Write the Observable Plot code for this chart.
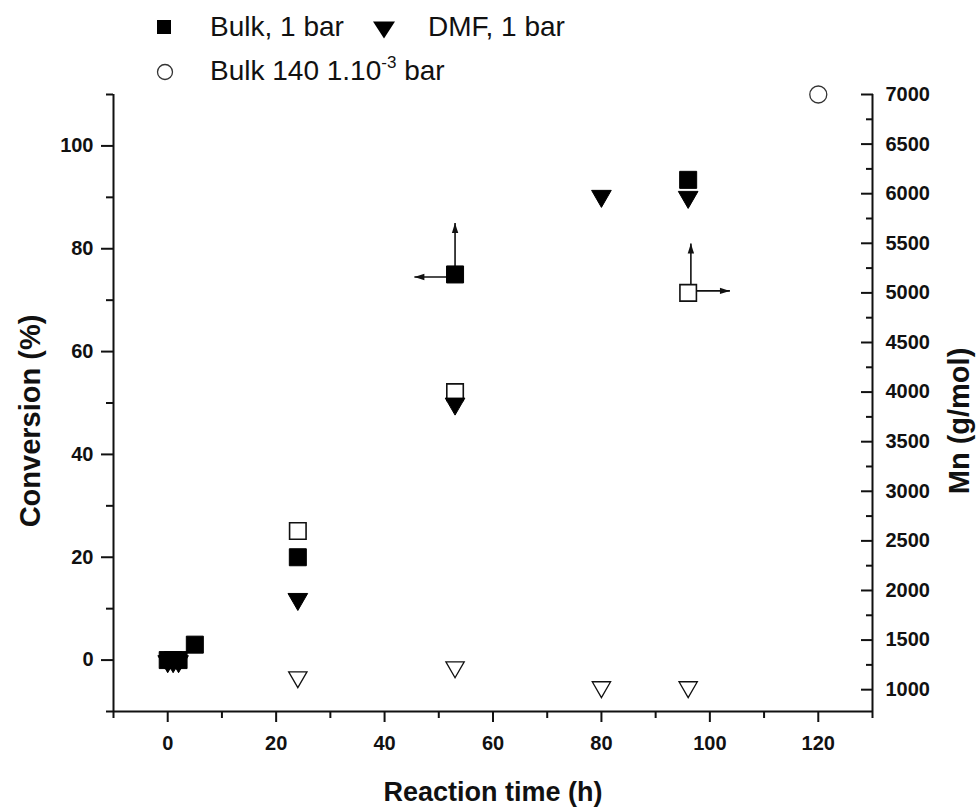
<!DOCTYPE html>
<html>
<head>
<meta charset="utf-8">
<script src="https://cdn.jsdelivr.net/npm/d3@7"></script>
<script src="https://cdn.jsdelivr.net/npm/@observablehq/plot@0.6"></script>
<style>
  body { margin: 0; background: #fff; font-family: "Liberation Sans", Arial, sans-serif; }
  #legend { position: relative; width: 976px; height: 80px; font-size: 28px; color: #111; }
  #legend .item { position: absolute; white-space: nowrap; line-height: 1; }
  #legend svg { position: absolute; overflow: visible; }
  #legend sup { font-size: 17px; vertical-align: 0; position: relative; top: -12px; }
  #chart svg { display: block; }
</style>
</head>
<body>
<div id="legend"></div>
<div id="chart"></div>
<script>
// ---- data ----
const bulkTime = [0, 1, 2, 5, 24, 53, 96];
const bulkConv = [0, 0, 0, 3, 20, 75, 93.4];
const dmfTime = [0, 1, 2, 24, 53, 80, 96];
const dmfConv = [-0.8, -0.8, -0.8, 11.3, 49.3, 89.7, 89.5];
const bulkMnTime = [24, 53, 96];
const bulkMn = [2600, 4000, 5000];
const dmfMnTime = [24, 53, 80, 96];
const dmfMn = [1100, 1200, 1000, 1000];
const vacTime = [120];
const vacMn = [7000];

const timeDomain = [-10, 130];
const convDomain = [-10, 110];
const mnDomain = [780, 7000];
const xTicks = [0, 20, 40, 60, 80, 100, 120];
const xMinorTicks = [-10, 10, 30, 50, 70, 90, 110, 130];
const convTicks = [0, 20, 40, 60, 80, 100];
const convMinorTicks = [-10, 10, 30, 50, 70, 90, 110];
const mnTicks = [1000, 1500, 2000, 2500, 3000, 3500, 4000, 4500, 5000, 5500, 6000, 6500, 7000];
const mnMinorTicks = [1250, 1750, 2250, 2750, 3250, 3750, 4250, 4750, 5250, 5750, 6250, 6750];

// annotation arrows (data units: time, conversion)
const arrowX1 = [53, 53, 96.5, 96.5];
const arrowY1 = [75, 74.5, 71.8, 71.8];
const arrowX2 = [53, 45.5, 96.5, 103.7];
const arrowY2 = [85, 74.5, 81, 71.8];
const arrowDir = ["up", "left", "up", "right"];

const legendLabels = ["Bulk, 1 bar", "DMF, 1 bar", "Bulk 140 1.10"];

// ---- helpers ----
const k = (convDomain[1] - convDomain[0]) / (mnDomain[1] - mnDomain[0]);
const toConv = m => convDomain[0] + (m - mnDomain[0]) * k;
const fromConv = c => mnDomain[0] + (c - convDomain[0]) / k;

const triangleDown = {
  draw(ctx, size) {
    const s = Math.sqrt(size * 4 / Math.sqrt(3));
    const h = s * Math.sqrt(3) / 2;
    ctx.moveTo(0, h / 2);
    ctx.lineTo(s / 2, -h / 2);
    ctx.lineTo(-s / 2, -h / 2);
    ctx.closePath();
  }
};
function head(dir) {
  return {
    draw(ctx) {
      const L = 10, W = 3.2;
      if (dir === "up") { ctx.moveTo(0, 0); ctx.lineTo(W, L); ctx.lineTo(-W, L); }
      if (dir === "left") { ctx.moveTo(0, 0); ctx.lineTo(L, W); ctx.lineTo(L, -W); }
      if (dir === "right") { ctx.moveTo(0, 0); ctx.lineTo(-L, W); ctx.lineTo(-L, -W); }
      ctx.closePath();
    }
  };
}

const bulk = bulkTime.map((t, i) => ({t, v: bulkConv[i]}));
const dmf = dmfTime.map((t, i) => ({t, v: dmfConv[i]}));
const bulkM = bulkMnTime.map((t, i) => ({t, v: toConv(bulkMn[i])}));
const dmfM = dmfMnTime.map((t, i) => ({t, v: toConv(dmfMn[i])}));
const vac = vacTime.map((t, i) => ({t, v: toConv(vacMn[i])}));
const arrows = arrowX1.map((x, i) => ({x1: x, y1: arrowY1[i], x2: arrowX2[i], y2: arrowY2[i], dir: arrowDir[i]}));

const axisStyle = {stroke: "#111", strokeWidth: 2};

const chart = Plot.plot({
  width: 976,
  height: 727,
  marginTop: 14,
  marginBottom: 96,
  marginLeft: 113,
  marginRight: 104,
  x: {domain: timeDomain, label: null},
  y: {domain: convDomain, label: null},
  style: {fontFamily: "'Liberation Sans', Arial, sans-serif", fontSize: "20px", fontWeight: "bold", color: "#111", background: "#fff", overflow: "visible"},
  marks: [
    // axis lines
    Plot.ruleX([timeDomain[0]], axisStyle),
    Plot.ruleX([timeDomain[1]], axisStyle),
    Plot.ruleY([convDomain[0]], axisStyle),
    // bottom axis
    Plot.axisX({ticks: xTicks, tickSize: 11, tickPadding: 13, strokeWidth: 2, label: null, fontSize: 20, fontWeight: "bold"}),
    Plot.axisX({ticks: xMinorTicks, tickSize: 7, strokeWidth: 2, tickFormat: () => "", label: null}),
    // left axis
    Plot.axisY({ticks: convTicks, tickSize: 12, tickPadding: 8, strokeWidth: 2, label: null, fontSize: 20, fontWeight: "bold"}),
    Plot.axisY({ticks: convMinorTicks, tickSize: 7, strokeWidth: 2, tickFormat: () => "", label: null}),
    // right axis (Mn) — ticks point inward
    Plot.axisY({anchor: "right", ticks: mnTicks.map(toConv), tickSize: -12, strokeWidth: 2, tickFormat: () => "", label: null}),
    Plot.axisY({anchor: "right", ticks: mnMinorTicks.map(toConv), tickSize: -7, strokeWidth: 2, tickFormat: () => "", label: null}),
    Plot.axisY({anchor: "right", ticks: mnTicks.map(toConv), tickSize: 0, tickPadding: 13, tickFormat: d => String(Math.round(fromConv(d) / 10) * 10), label: null, fontSize: 20, fontWeight: "bold"}),
    // axis titles
    Plot.text(["Reaction time (h)"], {frameAnchor: "bottom", dy: 89, textAnchor: "middle", fontSize: 27, fontWeight: "bold", fill: "#111"}),
    Plot.text(["Conversion (%)"], {frameAnchor: "left", dx: -83, dy: 18, textAnchor: "middle", rotate: -90, fontSize: 29, fontWeight: "bold", fill: "#111"}),
    Plot.text(["Mn (g/mol)"], {frameAnchor: "right", dx: 87, dy: 18, textAnchor: "middle", rotate: -90, fontSize: 29, fontWeight: "bold", fill: "#111"}),
    // arrows
    Plot.link(arrows, {x1: "x1", y1: "y1", x2: "x2", y2: "y2", stroke: "#111", strokeWidth: 1.6}),
    // data
    Plot.dot(bulkM, {x: "t", y: "v", symbol: "square", r: 9.3, fill: "#fff", stroke: "#111", strokeWidth: 1.6}),
    Plot.dot(dmfM, {x: "t", y: "v", symbol: triangleDown, r: 6.8, fill: "#fff", stroke: "#111", strokeWidth: 1.3}),
    Plot.dot(vac, {x: "t", y: "v", symbol: "circle", r: 8.5, fill: "#fff", stroke: "#333", strokeWidth: 1.3}),
    Plot.dot(bulk, {x: "t", y: "v", symbol: "square", r: 9.6, fill: "#000", stroke: "#000", strokeWidth: 1}),
    Plot.dot(dmf, {x: "t", y: "v", symbol: triangleDown, r: 7.3, fill: "#000", stroke: "#000", strokeWidth: 1}),
    Plot.dot(arrows.filter(d => d.dir === "up"), {x: "x2", y: "y2", symbol: head("up"), r: 5, fill: "#111", stroke: "none"}),
    Plot.dot(arrows.filter(d => d.dir === "left"), {x: "x2", y: "y2", symbol: head("left"), r: 5, fill: "#111", stroke: "none"}),
    Plot.dot(arrows.filter(d => d.dir === "right"), {x: "x2", y: "y2", symbol: head("right"), r: 5, fill: "#111", stroke: "none"})
  ]
});
document.getElementById("chart").appendChild(chart);

// ---- legend ----
const legend = document.getElementById("legend");
function addSymbol(x, y, svgInner) {
  const s = document.createElementNS("http://www.w3.org/2000/svg", "svg");
  s.setAttribute("width", 1); s.setAttribute("height", 1);
  s.style.left = x + "px"; s.style.top = y + "px";
  s.innerHTML = svgInner;
  legend.appendChild(s);
}
function addText(x, y, html) {
  const d = document.createElement("div");
  d.className = "item";
  d.style.left = x + "px"; d.style.top = y + "px";
  d.innerHTML = html;
  legend.appendChild(d);
}
addSymbol(164, 27, '<rect x="-7" y="-7" width="14" height="14" fill="#000"/>');
addText(210, 13, legendLabels[0]);
addSymbol(384, 30, '<path d="M0,8.5L11,-8.5L-11,-8.5Z" fill="#000"/>');
addText(428, 13, legendLabels[1]);
addSymbol(165, 72, '<circle r="7.5" fill="none" stroke="#333" stroke-width="1.3"/>');
addText(210, 57, legendLabels[2] + '<sup>-3</sup> bar');
</script>
</body>
</html>
